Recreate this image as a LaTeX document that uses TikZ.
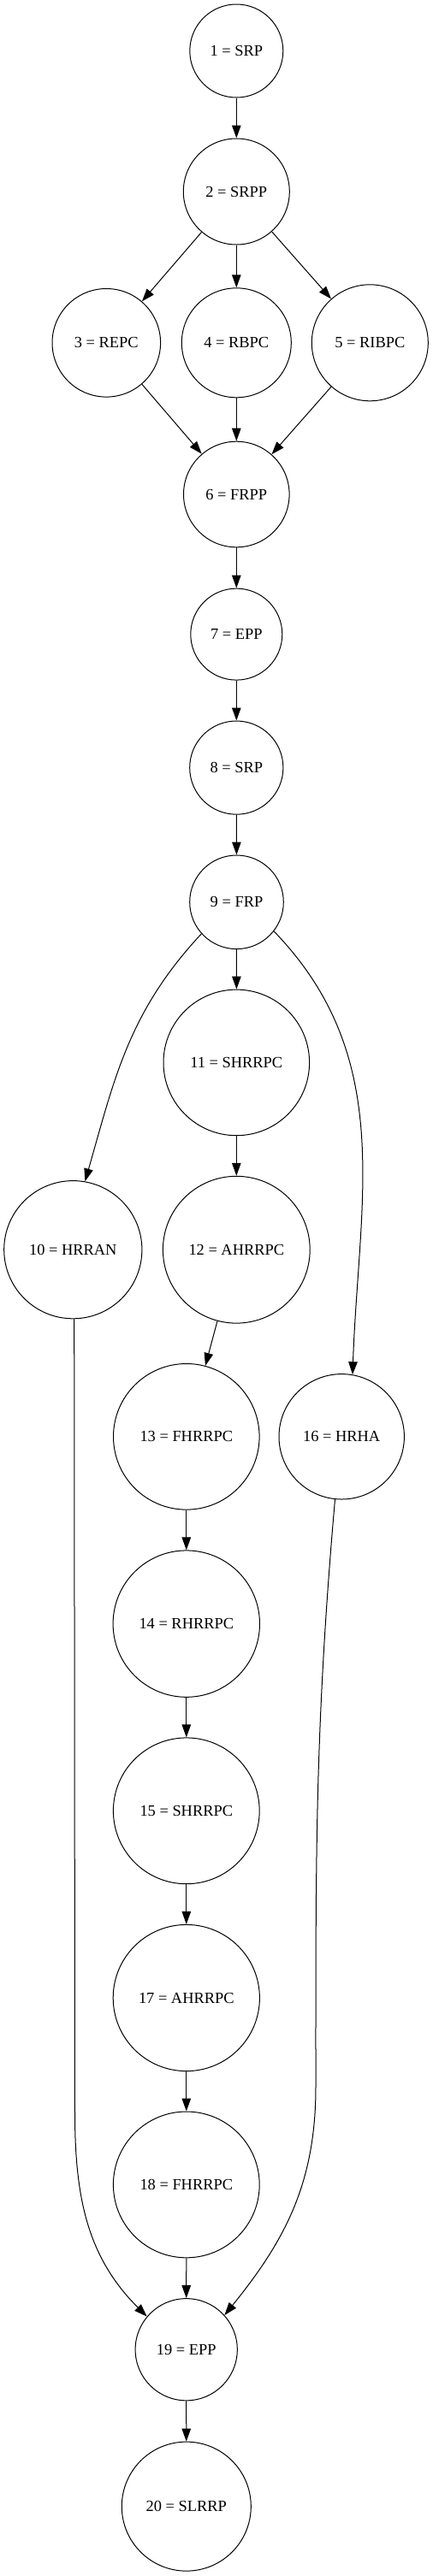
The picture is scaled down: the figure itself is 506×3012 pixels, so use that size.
\documentclass[tikz,border=0pt]{standalone}
\usepackage{fontspec}
\setmainfont{Liberation Serif}
\usepackage{tikz}
\usetikzlibrary{arrows.meta}
\tikzstyle{state} = [circle, draw, text centered, inner sep=0pt, line width=1pt]
\tikzstyle{connector} = [draw, line width=1pt, -{Triangle[length=15pt, width=10.5pt]}]

\begin{document}
\begin{tikzpicture}[x=1pt, y=1pt, font=\fontsize{18.4}{22}\selectfont] %coordenadas em pixels da figura original

\useasboundingbox (0,0) rectangle (506,-3012);

%---------------------------------------------
%Estados do processo, de cima para baixo
%---------------------------------------------

\node [state, minimum size=109pt] (n1) at (276.3,-59.5) {1 = SRP};
\node [state, minimum size=124pt] (n2) at (276.3,-224) {2 = SRPP};

%tres ramos paralelos
\node [state, minimum size=126.6pt] (n3) at (124.3,-400.8) {3 = REPC};
\node [state, minimum size=128pt] (n4) at (276.3,-400.8) {4 = RBPC};
\node [state, minimum size=136pt] (n5) at (432.3,-400.8) {5 = RIBPC};

\node [state, minimum size=123.6pt] (n6) at (276.3,-578) {6 = FRPP};
\node [state, minimum size=107pt] (n7) at (276.3,-741.6) {7 = EPP};
\node [state, minimum size=109.2pt] (n8) at (276.3,-897.6) {8 = SRP};
\node [state, minimum size=109.6pt] (n9) at (276.5,-1054.8) {9 = FRP};

%ramo central
\node [state, minimum size=170.6pt] (n11) at (276.3,-1242.4) {11 = SHRRPC};
\node [state, minimum size=161.2pt] (n10) at (85.3,-1461.2) {10 = HRRAN};
\node [state, minimum size=171.8pt] (n12) at (276.3,-1461.2) {12 = AHRRPC};
\node [state, minimum size=170.6pt] (n13) at (217.8,-1679.8) {13 = FHRRPC};
\node [state, minimum size=146.4pt] (n16) at (399.2,-1679.8) {16 = HRHA};
\node [state, minimum size=171.4pt] (n14) at (217.8,-1898.6) {14 = RHRRPC};
\node [state, minimum size=170.8pt] (n15) at (217.8,-2117.3) {15 = SHRRPC};
\node [state, minimum size=171.2pt] (n17) at (217.8,-2336) {17 = AHRRPC};
\node [state, minimum size=170.8pt] (n18) at (217.8,-2554.4) {18 = FHRRPC};

%final
\node [state, minimum size=119.2pt] (n19) at (217.7,-2747.2) {19 = EPP};
\node [state, minimum size=151pt] (n20) at (217.8,-2930.6) {20 = SLRRP};

%pontos de apoio das curvas longas
\coordinate (c10) at (87.5,-2470);
\coordinate (c16) at (369,-2440);

%---------------------------------------------
%Conexao e flechas
%---------------------------------------------
\path [connector] (n1) -- (n2);
\path [connector] (n2) -- (n3);
\path [connector] (n2) -- (n4);
\path [connector] (n2) -- (n5);
\path [connector] (n3) -- (n6);
\path [connector] (n4) -- (n6);
\path [connector] (n5) -- (n6);
\path [connector] (n6) -- (n7);
\path [connector] (n7) -- (n8);
\path [connector] (n8) -- (n9);
\path [connector] (n9) -- (n11);
\path [connector] (n9.-138) to[out=-133, in=74] (n10.80);
\path [connector] (n9.-38) to[out=-46, in=88] (n16.80);
\path [connector] (n11) -- (n12);
\path [connector] (n12) -- (n13);
\path [connector] (n13) -- (n14);
\path [connector] (n14) -- (n15);
\path [connector] (n15) -- (n17);
\path [connector] (n17) -- (n18);
\path [connector] (n18) -- (n19);
\path [connector] (n10.-89) -- (c10) to[out=-90, in=135] (n19.140);
\path [connector] (n16.-96) to[out=-95, in=90] (c16) to[out=-90, in=51] (n19.42);
\path [connector] (n19) -- (n20);

\end{tikzpicture}
\end{document}
